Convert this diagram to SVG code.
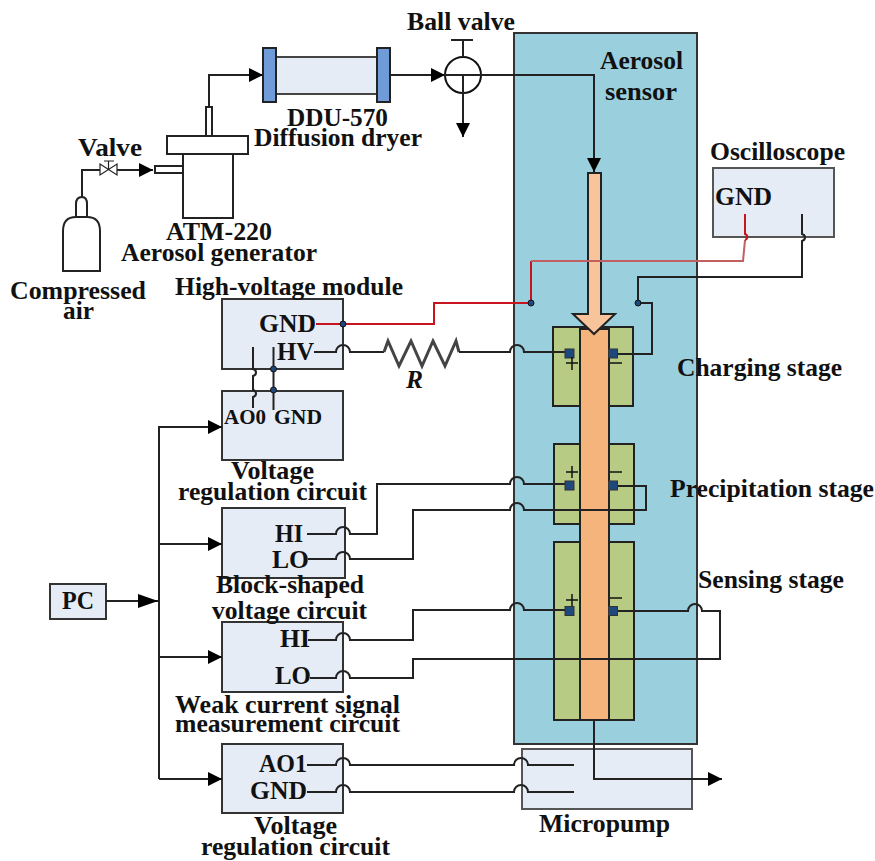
<svg xmlns="http://www.w3.org/2000/svg" width="875" height="861" viewBox="0 0 875 861">
<style>
.b{fill:#E6ECF6;stroke:#333;stroke-width:2}
.e{fill:#fff;stroke:#222;stroke-width:2}
.g{fill:#B8CB85;stroke:#222;stroke-width:2}
.s{fill:#1F497D;stroke:#333;stroke-width:1}
.d{fill:#1F497D;stroke:#111;stroke-width:1}
.w{fill:none;stroke:#222;stroke-width:2}
.r{fill:none;stroke:#C8141E;stroke-width:2}
.f{fill:#6F9BD8;stroke:#222;stroke-width:2}
text{font-family:"Liberation Serif","Times New Roman",serif;font-weight:bold;font-size:25.500px;fill:#111;text-anchor:start}
.t{font-size:21.500px}
</style>
<defs>
<marker id="a" markerUnits="userSpaceOnUse" markerWidth="15" markerHeight="16" refX="14" refY="7" orient="auto"><path d="M0 0L14 7L0 14Z" fill="#000"/></marker>
<marker id="a2" markerUnits="userSpaceOnUse" markerWidth="21" markerHeight="16" refX="20" refY="7" orient="auto"><path d="M0 0L20 7L0 14Z" fill="#000"/></marker>
</defs>
<g id="sensor">
<rect x="514" y="33" width="183" height="711" fill="#9AD0DE" stroke="#333" stroke-width="2"/>
<text x="600" y="69" textLength="83" lengthAdjust="spacingAndGlyphs">Aerosol</text>
<text x="605" y="100" textLength="72" lengthAdjust="spacingAndGlyphs">sensor</text>
</g>
<g id="charging-stage"><rect class="g" x="553" y="327" width="80" height="79"/></g>
<g id="precipitation-stage"><rect class="g" x="554" y="444" width="80" height="80"/></g>
<g id="sensing-stage"><rect class="g" x="554" y="542" width="80" height="178"/></g>
<g id="tube"><rect x="580" y="329" width="29" height="391" fill="#F4B47C" stroke="#222" stroke-width="2"/></g>
<g id="inlet-arrow"><path d="M588 173H601V314H615L594 334L573 314H588Z" fill="#F8C49C" stroke="#222" stroke-width="2"/></g>
<g id="cylinder"><path class="e" d="M63 271V231Q63 217 76 217H87Q100 217 100 231V271Z"/><path class="e" d="M76 216V204Q76 197 82 197Q87 197 87 204V216"/></g>
<g id="valve"><path d="M100 164L117 175V164L100 175Z" fill="#fff" stroke="#222" stroke-width="1.200"/><path d="M108.500 169V161M104 161H114" fill="none" stroke="#222" stroke-width="1.200"/></g>
<g id="generator"><rect class="e" x="155" y="166" width="28" height="7"/><rect class="e" x="206" y="107" width="6" height="29"/><rect class="e" x="183" y="154" width="50" height="64"/><rect class="e" x="167" y="136" width="81" height="18"/></g>
<g id="dryer"><rect x="276" y="57" width="101" height="37" fill="#E6ECF6" stroke="#444" stroke-width="2"/><rect class="f" x="263" y="48" width="13" height="54"/><rect class="f" x="377" y="48" width="13" height="54"/></g>
<g id="ball-valve"><circle cx="463" cy="75" r="18" fill="#fff" stroke="#111" stroke-width="2"/><path class="w" d="M463 57V40M451 40H473"/></g>
<g id="hv-module"><rect class="b" x="222" y="299" width="121" height="70"/></g>
<g id="voltage-circuit-1"><rect class="b" x="222" y="391" width="121" height="69"/></g>
<g id="block-circuit"><rect class="b" x="222" y="508" width="123" height="70"/></g>
<g id="weak-circuit"><rect class="b" x="222" y="622" width="121" height="70"/></g>
<g id="voltage-circuit-2"><rect class="b" x="222" y="744" width="121" height="69"/></g>
<g id="pc"><rect class="b" x="50" y="584" width="56" height="35"/></g>
<g id="oscilloscope"><rect x="713" y="168" width="121" height="69" fill="#E6ECF6" stroke="#555" stroke-width="2"/></g>
<g id="micropump"><rect x="522" y="749" width="170" height="60" fill="#E6ECF6" stroke="#555" stroke-width="2"/></g>
<g id="connectors">
<path class="w" d="M82 197V170H100M117 170H153" marker-end="url(#a)"/>
<path class="w" d="M209 107V75H263" marker-end="url(#a)"/>
<path class="w" d="M390 75H445" marker-end="url(#a)"/>
<path class="w" d="M463 75V137" marker-end="url(#a)"/>
<path class="w" d="M445 75H594V172" marker-end="url(#a)"/>
<path class="r" d="M316 324H434V303H531V261"/>
<path d="M531 261H743L745 240" fill="none" stroke="#C06060" stroke-width="2"/>
<path class="r" d="M745 240c3-1 3-5 0-6V214"/>
<path class="w" d="M802 214V234c4 1 4 6 0 7V277H638V303H652V354H613"/>
<path class="w" d="M253 347V369c4 1 4 6 0 7V390c4 1 4 6 0 7V408M273.500 347V410"/>
<path class="w" d="M314 352H336a7 7 0 0 1 14 0H384"/>
<path d="M384 352L388 341L399 366L411 341L422 366L433 341L445 366L456 341L459 352" fill="none" stroke="#444" stroke-width="3"/>
<path class="w" d="M459 352H510a7 7 0 0 1 14 0H565"/>
<path class="w" d="M307 534H336a7 7 0 0 1 14 0H377V484H510a7 7 0 0 1 14 0H565"/>
<path class="w" d="M308 559H336a7 7 0 0 1 14 0H413V510H510a7 7 0 0 1 14 0H646V486H613"/>
<path class="w" d="M308 640H336a7 7 0 0 1 14 0H413V610H510a7 7 0 0 1 14 0H565"/>
<path class="w" d="M310 678H336a7 7 0 0 1 14 0H413V659H720V611H702a7 7 0 0 0-14 0H613"/>
<path class="w" d="M307 765H336a7 7 0 0 1 14 0H514a7 7 0 0 1 14 0H574"/>
<path class="w" d="M307 792H336a7 7 0 0 1 14 0H514a7 7 0 0 1 14 0H574"/>
<path class="w" d="M594 720V779H722" marker-end="url(#a)"/>
<path class="w" d="M106 601H158" marker-end="url(#a2)"/>
<path class="w" d="M159 779V427H222" marker-end="url(#a)"/>
<path class="w" d="M159 544H222" marker-end="url(#a)"/>
<path class="w" d="M159 657H222" marker-end="url(#a)"/>
<path class="w" d="M159 779H222" marker-end="url(#a)"/>
<circle class="d" cx="343" cy="324" r="3"/><circle class="d" cx="273.500" cy="369" r="3"/><circle class="d" cx="273.500" cy="390" r="3"/><circle class="d" cx="531" cy="303" r="3"/><circle class="d" cx="638" cy="303" r="3"/>
</g>
<g id="terminals">
<rect class="s" x="565" y="349" width="9" height="9"/><rect class="s" x="608.500" y="349" width="9" height="9"/>
<rect class="s" x="565" y="481" width="9" height="9"/><rect class="s" x="608.500" y="481" width="9" height="9"/>
<rect class="s" x="565" y="606.500" width="9" height="9"/><rect class="s" x="608.500" y="606.500" width="9" height="9"/>
<path d="M566 363H578M572 357V370M610 363H622M566 472H578M572 466V478M610 472H622M566 600H578M572 594V606M610 598H622" fill="none" stroke="#111" stroke-width="1.500"/>
</g>
<g id="labels">
<text x="407" y="30" textLength="108" lengthAdjust="spacingAndGlyphs">Ball valve</text>
<text x="287" y="126" textLength="101" lengthAdjust="spacingAndGlyphs">DDU-570</text>
<text x="254" y="146" textLength="168" lengthAdjust="spacingAndGlyphs">Diffusion dryer</text>
<text x="78" y="156" textLength="64" lengthAdjust="spacingAndGlyphs">Valve</text>
<text x="166" y="240" textLength="106" lengthAdjust="spacingAndGlyphs">ATM-220</text>
<text x="121" y="261" textLength="196" lengthAdjust="spacingAndGlyphs">Aerosol generator</text>
<text x="10" y="299" textLength="136" lengthAdjust="spacingAndGlyphs">Compressed</text>
<text x="63" y="319" textLength="31" lengthAdjust="spacingAndGlyphs">air</text>
<text x="175" y="295" textLength="228" lengthAdjust="spacingAndGlyphs">High-voltage module</text>
<text x="259" y="332" textLength="57" lengthAdjust="spacingAndGlyphs">GND</text>
<text x="277" y="360" textLength="37" lengthAdjust="spacingAndGlyphs">HV</text>
<text x="406" y="388" style="font-style:italic" textLength="17" lengthAdjust="spacingAndGlyphs">R</text>
<text x="224" y="424" class="t" textLength="42" lengthAdjust="spacingAndGlyphs">AO0</text>
<text x="274" y="424" class="t" textLength="48" lengthAdjust="spacingAndGlyphs">GND</text>
<text x="231" y="479" textLength="83" lengthAdjust="spacingAndGlyphs">Voltage</text>
<text x="178" y="500" textLength="189" lengthAdjust="spacingAndGlyphs">regulation circuit</text>
<text x="275" y="542" textLength="28" lengthAdjust="spacingAndGlyphs">HI</text>
<text x="272" y="568" textLength="37" lengthAdjust="spacingAndGlyphs">LO</text>
<text x="216" y="593" textLength="148" lengthAdjust="spacingAndGlyphs">Block-shaped</text>
<text x="212" y="619" textLength="155" lengthAdjust="spacingAndGlyphs">voltage circuit</text>
<text x="280" y="647" textLength="30" lengthAdjust="spacingAndGlyphs">HI</text>
<text x="275" y="684" textLength="36" lengthAdjust="spacingAndGlyphs">LO</text>
<text x="175" y="713" textLength="225" lengthAdjust="spacingAndGlyphs">Weak current signal</text>
<text x="175" y="732" textLength="225" lengthAdjust="spacingAndGlyphs">measurement circuit</text>
<text x="259" y="772" textLength="48" lengthAdjust="spacingAndGlyphs">AO1</text>
<text x="250" y="799" textLength="57" lengthAdjust="spacingAndGlyphs">GND</text>
<text x="254" y="834" textLength="83" lengthAdjust="spacingAndGlyphs">Voltage</text>
<text x="201" y="855" textLength="189" lengthAdjust="spacingAndGlyphs">regulation circuit</text>
<text x="539" y="832" textLength="131" lengthAdjust="spacingAndGlyphs">Micropump</text>
<text x="62" y="609" textLength="32" lengthAdjust="spacingAndGlyphs">PC</text>
<text x="677" y="376" textLength="165" lengthAdjust="spacingAndGlyphs">Charging stage</text>
<text x="670" y="497" textLength="204" lengthAdjust="spacingAndGlyphs">Precipitation stage</text>
<text x="698" y="588" textLength="146" lengthAdjust="spacingAndGlyphs">Sensing stage</text>
<text x="710" y="160" textLength="135" lengthAdjust="spacingAndGlyphs">Oscilloscope</text>
<text x="715" y="205" textLength="57" lengthAdjust="spacingAndGlyphs">GND</text>
</g>
</svg>
